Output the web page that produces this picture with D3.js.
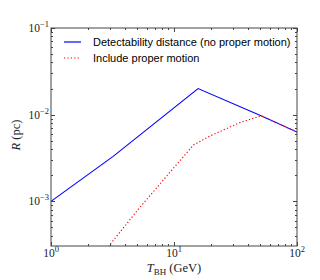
<!DOCTYPE html>
<html lang="en">
<head>
  <meta charset="UTF-8">
  <title>Detectability distance</title>
  <script src="https://d3js.org/d3.v7.min.js"></script>
  <style>
    body { margin: 0; background: #fff; }
    svg { display: block; }
    .tick-label { font-family: "Liberation Serif", serif; font-size: 11.5px; fill: #222; }
    .legend text { font-family: "Liberation Sans", Arial, sans-serif; font-size: 11px; fill: #000; }
    .axis-title { font-family: "Liberation Serif", serif; font-size: 12.5px; fill: #222; }
  </style>
</head>
<body>
  <svg id="chart"></svg>

  <script>
    // valeurs (T en GeV, R en pc)
    const blueT = [1, 3.2, 15.7, 51, 100];
    const blueR = [0.001, 0.0033, 0.020, 0.0097, 0.0063];
    const redT = [2.7, 5.2, 14.4, 15.4, 19.6, 34.4, 51, 100];
    const redR = [0.00026, 0.00083, 0.00448, 0.0047, 0.00568, 0.0081, 0.0097, 0.0063];
    const seriesNames = ['Detectability distance (no proper motion)', 'Include proper motion'];
    const xTicks = [1, 10, 100];
    const yTicks = [0.001, 0.01, 0.1];

    const width = 320, height = 280;
    const margin = { top: 28, right: 23, bottom: 34, left: 51 };

    const svg = d3.select('#chart')
      .attr('width', width)
      .attr('height', height);

    const x = d3.scaleLog()
      .domain([1, 100])
      .range([margin.left, width - margin.right]);

    const y = d3.scaleLog()
      .domain([3.05e-4, 0.1])
      .range([height - margin.bottom, margin.top]);

    const x0 = margin.left, x1 = width - margin.right;
    const y0 = height - margin.bottom, y1 = margin.top;

    svg.append('clipPath').attr('id', 'clip')
      .append('rect')
      .attr('x', x0).attr('y', y1)
      .attr('width', x1 - x0).attr('height', y0 - y1);

    // courbes
    const line = d3.line()
      .x(d => x(d[0]))
      .y(d => y(d[1]));

    const blue = blueT.map((t, i) => [t, blueR[i]]);
    const red = redT.map((t, i) => [t, redR[i]]);

    const plot = svg.append('g').attr('clip-path', 'url(#clip)');
    plot.append('path')
      .datum(blue)
      .attr('d', line)
      .attr('fill', 'none')
      .attr('stroke', '#0000ff')
      .attr('stroke-width', 1.1);
    plot.append('path')
      .datum(red)
      .attr('d', line)
      .attr('fill', 'none')
      .attr('stroke', '#ff0000')
      .attr('stroke-width', 1.2)
      .attr('stroke-dasharray', '1.2,2.2');

    // ticks (vers l'intérieur, sur les 4 côtés)
    const axisColor = '#444';
    const ticks = svg.append('g').attr('stroke', axisColor).attr('stroke-width', 1);
    const minorX = [];
    for (let d = 1; d < 100; d *= 10)
      for (let k = 2; k <= 9; k++) minorX.push(d * k);
    const minorY = [];
    for (let d = 1e-4; d < 0.1; d *= 10)
      for (let k = 2; k <= 9; k++) {
        const v = d * k;
        if (v >= y.domain()[0]) minorY.push(v);
      }

    xTicks.forEach(v => {
      const px = Math.round(x(v)) + 0.5;
      ticks.append('line').attr('x1', px).attr('x2', px).attr('y1', y0).attr('y2', y0 - 4);
      ticks.append('line').attr('x1', px).attr('x2', px).attr('y1', y1).attr('y2', y1 + 4);
    });
    minorX.forEach(v => {
      const px = Math.round(x(v)) + 0.5;
      ticks.append('line').attr('x1', px).attr('x2', px).attr('y1', y0).attr('y2', y0 - 2);
      ticks.append('line').attr('x1', px).attr('x2', px).attr('y1', y1).attr('y2', y1 + 2);
    });
    yTicks.forEach(v => {
      const py = Math.round(y(v)) + 0.5;
      ticks.append('line').attr('x1', x0).attr('x2', x0 + 4).attr('y1', py).attr('y2', py);
      ticks.append('line').attr('x1', x1).attr('x2', x1 - 4).attr('y1', py).attr('y2', py);
    });
    minorY.forEach(v => {
      const py = Math.round(y(v)) + 0.5;
      ticks.append('line').attr('x1', x0).attr('x2', x0 + 2).attr('y1', py).attr('y2', py);
      ticks.append('line').attr('x1', x1).attr('x2', x1 - 2).attr('y1', py).attr('y2', py);
    });

    // cadre
    svg.append('rect')
      .attr('x', x0).attr('y', y1)
      .attr('width', x1 - x0).attr('height', y0 - y1)
      .attr('fill', 'none')
      .attr('stroke', axisColor)
      .attr('stroke-width', 1);

    // étiquettes des ticks : 10^n
    function powLabel(g, v) {
      const e = Math.round(Math.log10(v));
      g.append('tspan').text('10');
      g.append('tspan')
        .attr('dy', -5)
        .attr('font-size', '8.5px')
        .text(e < 0 ? '\u2212' + (-e) : String(e));
    }

    xTicks.forEach(v => {
      const t = svg.append('text')
        .attr('class', 'tick-label')
        .attr('x', x(v))
        .attr('y', y0 + 11)
        .attr('text-anchor', 'middle');
      powLabel(t, v);
    });
    yTicks.forEach(v => {
      const t = svg.append('text')
        .attr('class', 'tick-label')
        .attr('x', x0 - 2)
        .attr('y', y(v) + 4)
        .attr('text-anchor', 'end');
      powLabel(t, v);
    });

    // titres des axes
    const xt = svg.append('text')
      .attr('class', 'axis-title')
      .attr('x', (x0 + x1) / 2)
      .attr('y', 272)
      .attr('text-anchor', 'middle');
    xt.append('tspan').attr('font-style', 'italic').text('T');
    xt.append('tspan').attr('font-size', '9px').attr('dy', 2.5).text('BH');
    xt.append('tspan').attr('dy', -2.5).text(' (GeV)');

    const yt = svg.append('text')
      .attr('class', 'axis-title')
      .attr('transform', 'translate(20,135) rotate(-90)')
      .attr('text-anchor', 'middle');
    yt.append('tspan').attr('font-style', 'italic').text('R');
    yt.append('tspan').text(' (pc)');

    // légende
    const legend = svg.append('g').attr('class', 'legend');
    const styles = [
      { color: '#0000ff', dash: null },
      { color: '#ff0000', dash: '1.2,2.2' }
    ];
    seriesNames.forEach((name, i) => {
      const ly = 42 + i * 16;
      legend.append('line')
        .attr('x1', 64).attr('x2', 81)
        .attr('y1', ly).attr('y2', ly)
        .attr('stroke', styles[i].color)
        .attr('stroke-width', 1.2)
        .attr('stroke-dasharray', styles[i].dash);
      legend.append('text')
        .attr('x', 93)
        .attr('y', ly + 4)
        .text(name);
    });
  </script>
</body>
</html>
